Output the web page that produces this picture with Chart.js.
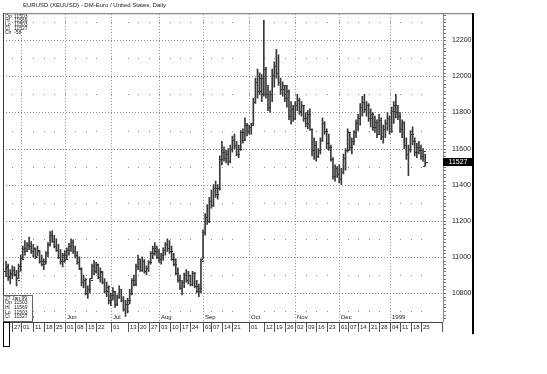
<!DOCTYPE html>
<html>
<head>
<meta charset="utf-8">
<script src="https://cdn.jsdelivr.net/npm/chart.js@4.4.1/dist/chart.umd.min.js"></script>
<style>
html, body { margin: 0; padding: 0; background: #fff; }
#wrap { width: 547px; height: 374px; position: relative; }
</style>
</head>
<body>
<div id="wrap"><canvas id="chart"></canvas></div>
<script>
// EURUSD daily OHLC, Apr 1998 - Jan 1999
const firstDay = '1998-04-22';
const lastSlot = '1999-02-08';

const opens = [
  10920,10945,10895,10905,10930,10905,10885,10950,10995,11045,
  11035,11065,11060,11030,11045,11005,11035,10980,10960,10975,
  11020,11070,11120,11090,11060,11040,11000,10975,11010,10990,
  11040,11060,11080,11030,11010,10970,10935,10860,10870,10800,
  10820,10885,10950,10920,10955,10890,10915,10860,10810,10835,
  10760,10790,10810,10740,10780,10820,10760,10710,10740,10760,
  10800,10870,10850,10950,10990,10930,10980,10920,10940,10970,
  11020,11050,11030,11000,10990,11010,11040,11070,11050,11030,
  10990,10960,10910,10870,10830,10860,10900,10870,10900,10850,
  10910,10840,10810,10830,10990,11140,11220,11200,11310,11290,
  11380,11350,11380,11540,11580,11550,11570,11530,11600,11650,
  11620,11570,11600,11690,11650,11730,11700,11720,11740,11860,
  11970,11920,11990,11900,12040,11900,11830,11900,12010,12060,
  12020,11970,11930,11950,11880,11920,11780,11820,11770,11840,
  11870,11810,11840,11770,11740,11790,11710,11590,11620,11560,
  11590,11650,11740,11700,11630,11610,11540,11450,11490,11460,
  11430,11470,11550,11590,11690,11610,11640,11690,11740,11770,
  11830,11860,11820,11840,11770,11790,11720,11750,11680,11760,
  11670,11710,11740,11770,11700,11810,11840,11800,11780,11710,
  11740,11620,11570,11600,11680,11640,11580,11610,11590,11560,
  11503
];
const highs = [
  10975,10960,10930,10950,10945,10925,10960,11010,11060,11090,
  11080,11110,11085,11070,11050,11060,11035,11010,10990,11030,
  11080,11140,11145,11120,11100,11070,11040,11020,11035,11050,
  11075,11100,11095,11060,11030,11000,10940,10900,10880,10840,
  10880,10960,10980,10970,10960,10940,10920,10880,10860,10840,
  10800,10830,10810,10790,10840,10820,10780,10760,10770,10820,
  10880,10900,10960,11010,10990,11000,10985,10950,10980,11030,
  11060,11080,11060,11040,11020,11050,11080,11100,11090,11060,
  11020,10990,10940,10900,10870,10910,10930,10920,10900,10920,
  10915,10870,10850,10990,11150,11240,11290,11330,11370,11400,
  11420,11400,11560,11640,11610,11590,11600,11620,11670,11680,
  11640,11620,11700,11710,11770,11740,11730,11740,11880,11990,
  12040,12020,12010,12310,12050,11950,11920,12040,12080,12150,
  12120,11990,11970,11950,11950,11925,11860,11840,11860,11900,
  11880,11860,11840,11800,11810,11820,11710,11660,11640,11600,
  11660,11770,11750,11710,11680,11620,11550,11510,11500,11510,
  11490,11570,11600,11710,11690,11660,11700,11760,11790,11850,
  11890,11900,11860,11850,11820,11800,11780,11760,11790,11770,
  11730,11760,11800,11780,11830,11860,11900,11840,11800,11760,
  11750,11660,11620,11700,11720,11660,11630,11640,11620,11600,
  11569
];
const lows = [
  10890,10870,10850,10880,10895,10840,10880,10920,10990,11010,
  11030,11040,11020,11000,10990,11005,10965,10950,10930,10960,
  11000,11060,11080,11050,11030,10990,10960,10945,10970,10990,
  11010,11030,11020,10995,10960,10930,10840,10830,10790,10770,
  10800,10880,10900,10910,10880,10860,10850,10800,10780,10740,
  10730,10760,10720,10730,10770,10750,10700,10670,10690,10740,
  10790,10840,10840,10930,10920,10920,10910,10900,10920,10960,
  10990,11010,10990,10970,10960,10980,11010,11030,11020,10980,
  10950,10900,10860,10820,10790,10830,10860,10850,10840,10840,
  10830,10800,10780,10800,10990,11120,11180,11190,11270,11280,
  11330,11320,11370,11510,11530,11520,11510,11520,11580,11600,
  11560,11550,11590,11630,11650,11670,11680,11680,11730,11850,
  11880,11900,11860,11890,11880,11810,11800,11860,11940,11990,
  11950,11900,11890,11860,11830,11760,11735,11750,11760,11810,
  11790,11780,11750,11720,11710,11700,11560,11540,11530,11550,
  11570,11640,11680,11600,11590,11530,11430,11420,11440,11410,
  11400,11460,11480,11580,11590,11570,11620,11660,11700,11730,
  11780,11800,11780,11750,11720,11700,11690,11660,11680,11650,
  11630,11660,11700,11680,11690,11740,11770,11760,11690,11660,
  11600,11540,11450,11580,11620,11560,11550,11570,11540,11530,
  11503
];
const closes = [
  10950,10890,10910,10930,10900,10870,10950,10990,11050,11030,
  11070,11060,11030,11050,11000,11040,10980,10960,10975,11020,
  11070,11120,11090,11060,11040,11000,10975,11010,10990,11040,
  11060,11080,11030,11010,10970,10940,10860,10880,10800,10820,
  10870,10950,10920,10960,10890,10920,10860,10810,10840,10760,
  10790,10810,10740,10780,10820,10760,10710,10740,10760,10800,
  10870,10850,10950,10990,10930,10980,10920,10940,10970,11020,
  11050,11030,11000,10990,11010,11040,11070,11050,11030,10990,
  10960,10910,10870,10830,10860,10900,10870,10900,10850,10910,
  10840,10810,10830,10980,11140,11220,11200,11310,11290,11380,
  11350,11380,11540,11580,11550,11570,11530,11600,11650,11620,
  11570,11600,11690,11650,11730,11700,11720,11730,11860,11970,
  11920,11990,11900,12040,11900,11830,11900,12010,12060,12020,
  11970,11930,11950,11880,11920,11780,11820,11770,11840,11870,
  11810,11840,11770,11740,11790,11710,11590,11620,11560,11590,
  11650,11740,11700,11630,11610,11540,11450,11490,11460,11430,
  11470,11550,11590,11690,11610,11640,11690,11740,11770,11830,
  11860,11820,11840,11770,11790,11720,11750,11680,11760,11670,
  11710,11740,11770,11700,11810,11840,11800,11780,11710,11740,
  11620,11570,11600,11680,11640,11580,11610,11590,11560,11585,
  11527
];

// weekly tick labels under the chart
const dayTicks = [
  ['1998-04-27','27'],['1998-05-01','01'],['1998-05-11','11'],['1998-05-18','18'],['1998-05-25','25'],
  ['1998-06-01','01'],['1998-06-08','08'],['1998-06-15','15'],['1998-06-22','22'],
  ['1998-07-01','01'],['1998-07-13','13'],['1998-07-20','20'],['1998-07-27','27'],
  ['1998-08-03','03'],['1998-08-10','10'],['1998-08-17','17'],['1998-08-24','24'],
  ['1998-09-01','01'],['1998-09-07','07'],['1998-09-14','14'],['1998-09-21','21'],
  ['1998-10-01','01'],['1998-10-12','12'],['1998-10-19','19'],['1998-10-26','26'],
  ['1998-11-02','02'],['1998-11-09','09'],['1998-11-16','16'],['1998-11-23','23'],
  ['1998-12-01','01'],['1998-12-07','07'],['1998-12-14','14'],['1998-12-21','21'],['1998-12-28','28'],
  ['1999-01-04','04'],['1999-01-11','11'],['1999-01-18','18'],['1999-01-25','25']
];
const monthTicks = [
  ['1998-05-01','May'],['1998-06-01','Jun'],['1998-07-01','Jul'],['1998-08-03','Aug'],
  ['1998-09-01','Sep'],['1998-10-01','Oct'],['1998-11-02','Nov'],['1998-12-01','Dec'],['1999-01-04','1999']
];
const gridLevels = [10700,10800,10900,11000,11100,11200,11300,11400,11500,11600,11700,11800,11900,12000,12100,12200,12300];

const titleText = 'EURUSD (XEUUSD) - DM-Euro / United States, Daily';
const topInfo = [['Op','11503'],['Hi','11569'],['Lo','11503'],['Cl','11527'],['Ch','-58']];
const bottomInfo = [['27 Jan 99',''],['Op','11503'],['Hi','11569'],['Lo','11503'],['Cl','11527']];

const barColor = '#3a3a3a';
const gridColor = '#8c8c8c';
const FONT = '"Liberation Sans", Arial, sans-serif';

function businessDays(from, to) {
  const out = [];
  const d = new Date(from + 'T00:00:00Z');
  const end = new Date(to + 'T00:00:00Z');
  while (d <= end) {
    const wd = d.getUTCDay();
    if (wd !== 0 && wd !== 6) out.push(d.toISOString().slice(0, 10));
    d.setUTCDate(d.getUTCDate() + 1);
  }
  return out;
}
const categories = businessDays(firstDay, lastSlot);

// --- 繪圖 plugin: grid, OHLC ticks, date labels, boxes ---
const chartDecor = {
  id: 'chartDecor',
  beforeDatasetsDraw(chart) {
    const { ctx, chartArea: a, scales: { x, y } } = chart;
    ctx.save();
    ctx.fillStyle = gridColor;
    const weekXs = dayTicks.map(t => Math.round(x.getPixelForValue(categories.indexOf(t[0]))));
    gridLevels.forEach(v => {
      const py = Math.round(y.getPixelForValue(v));
      if (v % 200 === 0) {
        for (let px = a.left + 1; px < a.right; px += 3) ctx.fillRect(px, py, 1, 1);
      } else {
        weekXs.forEach(px => ctx.fillRect(px, py, 1, 1));
      }
    });
    monthTicks.forEach(t => {
      const px = Math.round(x.getPixelForValue(categories.indexOf(t[0])));
      for (let py = a.top + 1; py < a.bottom; py += 3) ctx.fillRect(px, py, 1, 1);
    });
    ctx.restore();
  },
  afterDatasetsDraw(chart) {
    const { ctx, scales: { y } } = chart;
    const meta = chart.getDatasetMeta(0);
    ctx.save();
    ctx.fillStyle = barColor;
    meta.data.forEach((bar, i) => {
      const bx = Math.round(bar.x);
      ctx.fillRect(bx - 2, Math.round(y.getPixelForValue(opens[i])), 2, 1);
      ctx.fillRect(bx + 1, Math.round(y.getPixelForValue(closes[i])), 2, 1);
    });
    ctx.restore();
  },
  afterDraw(chart) {
    const { ctx, chartArea: a, scales: { x, y } } = chart;
    ctx.save();
    // frame
    ctx.fillStyle = '#6e6e6e';
    ctx.fillRect(3, a.top, 470, 1);
    ctx.fillStyle = '#3a3a3a';
    ctx.fillRect(3, a.top, 1, a.bottom - a.top + 1);
    ctx.fillStyle = '#000';
    ctx.fillRect(472, a.top, 2, 321);
    // right axis minor ticks
    ctx.fillStyle = '#777';
    for (let v = 10660; v <= 12340; v += 20) {
      ctx.fillRect(a.right + 1, Math.round(y.getPixelForValue(v)), 2, 1);
    }
    // bottom axis line + date row
    ctx.fillStyle = '#444';
    ctx.fillRect(10, a.bottom + 1, a.right - 10, 1);
    ctx.font = '6px ' + FONT;
    ctx.textBaseline = 'middle';
    ctx.textAlign = 'left';
    dayTicks.forEach(t => {
      const px = Math.round(x.getPixelForValue(categories.indexOf(t[0])));
      ctx.fillStyle = '#555';
      ctx.fillRect(px, a.bottom + 2, 1, 9);
      ctx.fillStyle = '#222';
      ctx.fillText(t[1], px + 2, a.bottom + 6.5);
    });
    ctx.fillStyle = '#555';
    ctx.fillRect(Math.round(a.right) - 1, a.bottom + 2, 1, 9);
    ctx.fillStyle = '#222';
    monthTicks.forEach(t => {
      const px = Math.round(x.getPixelForValue(categories.indexOf(t[0])));
      ctx.fillText(t[1], px + 2, a.bottom - 4);
    });
    // small box at lower left
    ctx.strokeStyle = '#000';
    ctx.lineWidth = 1;
    ctx.strokeRect(3.5, a.bottom + 1.5, 6, 24);
    // bottom-left data box
    ctx.fillStyle = '#fff';
    ctx.fillRect(4, a.bottom - 25, 29, 25);
    ctx.strokeStyle = '#666';
    ctx.strokeRect(3.5, a.bottom - 25.5, 29, 26);
    ctx.fillStyle = '#222';
    ctx.font = '5px ' + FONT;
    bottomInfo.forEach((r, k) => {
      const ry = a.bottom - 22.5 + k * 4.6;
      ctx.fillText(r[0], 5, ry);
      if (r[1]) ctx.fillText(r[1], 14, ry);
    });
    // top-left data box
    topInfo.forEach((r, k) => {
      const ry = a.top + 3 + k * 4;
      ctx.fillText(r[0], 5, ry);
      ctx.fillText(r[1], 14, ry);
    });
    // title
    ctx.font = '6px ' + FONT;
    ctx.fillText(titleText, 23, 5);
    // last price marker
    const last = closes[closes.length - 1];
    const ly = Math.round(y.getPixelForValue(last));
    ctx.fillStyle = '#000';
    ctx.fillRect(a.right, ly - 4, 29, 8);
    ctx.fillStyle = '#fff';
    ctx.font = '7px ' + FONT;
    ctx.textAlign = 'center';
    ctx.fillText(String(last), a.right + 15, ly);
    ctx.restore();
  }
};

const ctx = document.getElementById('chart').getContext('2d');
new Chart(ctx, {
  type: 'bar',
  data: {
    labels: categories,
    datasets: [{
      label: 'EURUSD',
      data: lows.map((l, i) => [l, highs[i]]),
      backgroundColor: barColor,
      borderWidth: 0,
      barThickness: 1
    }]
  },
  options: {
    responsive: true,
    maintainAspectRatio: false,
    animation: false,
    layout: { padding: { left: 5, right: 74, top: 12, bottom: 53 } },
    plugins: { legend: { display: false }, tooltip: { enabled: false } },
    scales: {
      x: { display: false, offset: true },
      y: {
        position: 'right',
        min: 10645,
        max: 12350,
        afterFit: s => { s.width = 30; },
        grid: { display: false, drawTicks: false },
        border: { display: true, color: '#888' },
        ticks: {
          stepSize: 200,
          includeBounds: false,
          padding: 9,
          color: '#222',
          font: { family: FONT, size: 7 },
          callback: v => String(v)
        }
      }
    }
  },
  plugins: [chartDecor]
});
</script>
</body>
</html>
